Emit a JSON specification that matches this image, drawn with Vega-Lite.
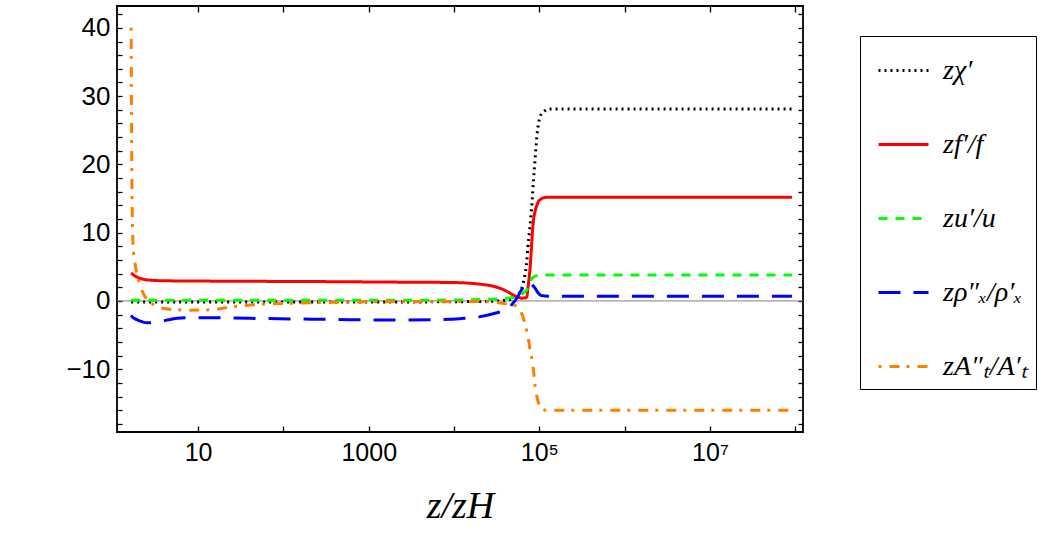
{
  "$schema": "https://vega.github.io/schema/vega-lite/v6.json",
  "width": 686,
  "height": 426,
  "autosize": {"type": "none"},
  "padding": {"left": 117, "top": 6, "right": 238, "bottom": 103},
  "config": {
    "view": {"stroke": "black", "strokeWidth": 1.8},
    "font": "Liberation Sans"
  },
  "data": {
    "values": [
      {"z": 1.641, "chi": -0.15, "f": 4.1, "u": 0.1, "rho": -2.1, "A": 40},
      {"z": 1.66, "chi": -0.15, "f": 4.05, "u": 0.1, "rho": -2.2, "A": 24},
      {"z": 1.679, "chi": -0.15, "f": 4.0, "u": 0.1, "rho": -2.3, "A": 16},
      {"z": 1.73, "chi": -0.15, "f": 3.85, "u": 0.1, "rho": -2.45, "A": 8.0},
      {"z": 1.82, "chi": -0.15, "f": 3.65, "u": 0.1, "rho": -2.6, "A": 5.5},
      {"z": 1.91, "chi": -0.15, "f": 3.5, "u": 0.1, "rho": -2.75, "A": 4.0},
      {"z": 2.089, "chi": -0.15, "f": 3.3, "u": 0.1, "rho": -2.95, "A": 2.3},
      {"z": 2.265, "chi": -0.15, "f": 3.18, "u": 0.1, "rho": -3.1, "A": 1.15},
      {"z": 2.523, "chi": -0.15, "f": 3.08, "u": 0.1, "rho": -3.2, "A": 0.2},
      {"z": 2.884, "chi": -0.15, "f": 3.02, "u": 0.1, "rho": -3.2, "A": -0.4},
      {"z": 3.304, "chi": -0.15, "f": 2.98, "u": 0.1, "rho": -3.1, "A": -0.85},
      {"z": 4.169, "chi": -0.15, "f": 2.95, "u": 0.1, "rho": -2.85, "A": -1.15},
      {"z": 5.675, "chi": -0.15, "f": 2.93, "u": 0.1, "rho": -2.55, "A": -1.3},
      {"z": 7.943, "chi": -0.15, "f": 2.92, "u": 0.1, "rho": -2.45, "A": -1.35},
      {"z": 13.84, "chi": -0.15, "f": 2.9, "u": 0.1, "rho": -2.45, "A": -1.3},
      {"z": 25.7, "chi": -0.15, "f": 2.88, "u": 0.1, "rho": -2.5, "A": -0.85},
      {"z": 40.74, "chi": -0.15, "f": 2.87, "u": 0.1, "rho": -2.55, "A": -0.6},
      {"z": 157, "chi": -0.15, "f": 2.85, "u": 0.1, "rho": -2.65, "A": -0.3},
      {"z": 631, "chi": -0.15, "f": 2.8, "u": 0.1, "rho": -2.75, "A": -0.15},
      {"z": 2333, "chi": -0.15, "f": 2.75, "u": 0.1, "rho": -2.8, "A": -0.1},
      {"z": 8995, "chi": -0.12, "f": 2.7, "u": 0.12, "rho": -2.7, "A": -0.1},
      {"z": 14256, "chi": -0.1, "f": 2.62, "u": 0.15, "rho": -2.5, "A": -0.1},
      {"z": 20230, "chi": -0.08, "f": 2.45, "u": 0.2, "rho": -2.3, "A": -0.1},
      {"z": 26485, "chi": -0.05, "f": 2.25, "u": 0.25, "rho": -2.0, "A": -0.15},
      {"z": 34674, "chi": 0.0, "f": 1.85, "u": 0.3, "rho": -1.6, "A": -0.3},
      {"z": 41687, "chi": 0.15, "f": 1.4, "u": 0.4, "rho": -1.3, "A": -0.45},
      {"z": 49317, "chi": 0.35, "f": 0.86, "u": 0.5, "rho": -0.3, "A": -0.6},
      {"z": 54450, "chi": 0.6, "f": 0.62, "u": 0.65, "rho": 0.4, "A": -0.8},
      {"z": 59566, "chi": 1.3, "f": 0.45, "u": 0.85, "rho": 1.3, "A": -1.3},
      {"z": 62373, "chi": 1.9, "f": 0.4, "u": 1.0, "rho": 1.7, "A": -1.9},
      {"z": 65163, "chi": 2.8, "f": 0.42, "u": 1.2, "rho": 2.1, "A": -2.6},
      {"z": 69984, "chi": 5.0, "f": 0.5, "u": 1.5, "rho": 2.5, "A": -4.0},
      {"z": 71285, "chi": 5.9, "f": 0.6, "u": 1.6, "rho": 2.6, "A": -4.5},
      {"z": 73282, "chi": 7.9, "f": 1.8, "u": 1.9, "rho": 2.7, "A": -5.2},
      {"z": 76560, "chi": 10.2, "f": 3.9, "u": 2.6, "rho": 2.8, "A": -6.6},
      {"z": 77983, "chi": 11.2, "f": 5.0, "u": 2.8, "rho": 2.78, "A": -7.3},
      {"z": 80168, "chi": 12.9, "f": 7.2, "u": 3.1, "rho": 2.65, "A": -8.0},
      {"z": 81658, "chi": 14.1, "f": 8.9, "u": 3.25, "rho": 2.5, "A": -8.5},
      {"z": 85310, "chi": 17.7, "f": 11.8, "u": 3.5, "rho": 2.15, "A": -10.2},
      {"z": 89330, "chi": 21.0, "f": 13.2, "u": 3.62, "rho": 1.85, "A": -12.6},
      {"z": 93541, "chi": 24.2, "f": 14.0, "u": 3.7, "rho": 1.45, "A": -14.0},
      {"z": 97724, "chi": 26.0, "f": 14.6, "u": 3.74, "rho": 1.1, "A": -15.0},
      {"z": 102094, "chi": 27.0, "f": 14.85, "u": 3.76, "rho": 0.86, "A": -15.5},
      {"z": 106905, "chi": 27.5, "f": 15.0, "u": 3.78, "rho": 0.78, "A": -15.8},
      {"z": 111686, "chi": 27.7, "f": 15.1, "u": 3.8, "rho": 0.75, "A": -15.9},
      {"z": 116950, "chi": 27.9, "f": 15.15, "u": 3.8, "rho": 0.72, "A": -16.0},
      {"z": 126765, "chi": 28.1, "f": 15.2, "u": 3.8, "rho": 0.7, "A": -16.0},
      {"z": 153109, "chi": 28.1, "f": 15.2, "u": 3.8, "rho": 0.7, "A": -16.0},
      {"z": 316228, "chi": 28.1, "f": 15.2, "u": 3.8, "rho": 0.7, "A": -16.0},
      {"z": 3162278, "chi": 28.1, "f": 15.2, "u": 3.8, "rho": 0.7, "A": -16.0},
      {"z": 91201084, "chi": 28.1, "f": 15.2, "u": 3.8, "rho": 0.7, "A": -16.0}
    ]
  },
  "layer": [
    {
      "data": {"values": [{}]},
      "mark": {"type": "rule", "color": "#7f7f7f", "strokeWidth": 1},
      "encoding": {
        "x": {"datum": 1.12, "type": "quantitative",
          "scale": {"type": "log", "domain": [1.12, 123000000], "nice": false},
          "axis": {"orient": "top", "values": [10, 100, 1000, 10000, 100000, 1000000, 10000000, 100000000],
            "labels": false, "title": null, "domain": false, "grid": false,
            "tickSize": -6, "tickColor": "black", "tickWidth": 1.3}},
        "x2": {"datum": 123000000},
        "y": {"datum": 0, "type": "quantitative",
          "scale": {"domain": [-19.2, 43.2], "nice": false, "zero": false},
          "axis": {"orient": "right", "values": [-18, -16, -14, -12, -10, -8, -6, -4, -2, 0, 2, 4, 6, 8, 10, 12, 14, 16, 18, 20, 22, 24, 26, 28, 30, 32, 34, 36, 38, 40, 42],
            "labels": false, "title": null, "domain": false, "grid": false,
            "tickSize": -5, "tickColor": "black", "tickWidth": 1.3}}
      }
    },
    {
      "transform": [{"fold": ["chi", "f", "u", "rho", "A"], "as": ["s", "v"]}],
      "mark": {"type": "line", "strokeWidth": 3, "strokeCap": "butt", "interpolate": "monotone", "clip": true},
      "encoding": {
        "x": {"field": "z", "type": "quantitative",
          "scale": {"type": "log", "domain": [1.12, 123000000], "nice": false},
          "axis": {"orient": "bottom", "values": [10, 100, 1000, 10000, 100000, 1000000, 10000000, 100000000],
            "labelExpr": "datum.value == 10 ? '10' : datum.value == 1000 ? '1000' : datum.value == 100000 ? '10⁵' : datum.value == 10000000 ? '10⁷' : ''",
            "labelFont": "Liberation Sans", "labelFontSize": 25, "labelColor": "black", "labelPadding": 14,
            "labelOverlap": false, "labelFlush": false,
            "title": "z/zH", "titleFont": "Liberation Serif", "titleFontStyle": "italic", "titleFontWeight": "normal",
            "titleFontSize": 38, "titleColor": "black", "titlePadding": 22,
            "domain": false, "grid": false, "tickSize": -6, "tickColor": "black", "tickWidth": 1.3}},
        "y": {"field": "v", "type": "quantitative",
          "scale": {"domain": [-19.2, 43.2], "nice": false, "zero": false},
          "axis": {"orient": "left", "values": [-18, -16, -14, -12, -10, -8, -6, -4, -2, 0, 2, 4, 6, 8, 10, 12, 14, 16, 18, 20, 22, 24, 26, 28, 30, 32, 34, 36, 38, 40, 42],
            "labelExpr": "datum.value % 10 == 0 ? datum.label : ''",
            "labelFont": "Liberation Sans", "labelFontSize": 26, "labelColor": "black", "labelPadding": 12,
            "labelOverlap": false, "labelFlush": false,
            "title": null, "domain": false, "grid": false, "tickSize": -5, "tickColor": "black", "tickWidth": 1.3}},
        "color": {"field": "s", "type": "nominal",
          "scale": {"domain": ["chi", "f", "u", "rho", "A"], "range": ["#000000", "#ff0000", "#00ff00", "#0000ff", "#ff8000"]},
          "legend": {"orient": "none", "legendX": 743, "legendY": 30, "title": null,
            "labelExpr": "datum.label == 'chi' ? 'zχ′' : datum.label == 'f' ? 'zf′/f' : datum.label == 'u' ? 'zu′/u' : datum.label == 'rho' ? 'zρ″ₓ/ρ′ₓ' : 'zA″ₜ/A′ₜ   '",
            "symbolType": "stroke", "symbolSize": 2500, "symbolStrokeWidth": 3, "symbolOffset": 9,
            "labelFont": "Liberation Serif", "labelFontStyle": "italic", "labelFontSize": 28, "labelColor": "black",
            "labelOffset": 13, "rowPadding": 33, "padding": 8, "strokeColor": "black"}},
        "strokeDash": {"field": "s", "type": "nominal",
          "scale": {"domain": ["chi", "f", "u", "rho", "A"], "range": [[2, 4], [1, 0], [9, 8], [22, 13], [3, 8, 10, 7]]},
          "legend": {"orient": "none", "legendX": 743, "legendY": 30, "title": null,
            "labelExpr": "datum.label == 'chi' ? 'zχ′' : datum.label == 'f' ? 'zf′/f' : datum.label == 'u' ? 'zu′/u' : datum.label == 'rho' ? 'zρ″ₓ/ρ′ₓ' : 'zA″ₜ/A′ₜ   '",
            "symbolType": "stroke", "symbolSize": 2500, "symbolStrokeWidth": 3, "symbolOffset": 9,
            "labelFont": "Liberation Serif", "labelFontStyle": "italic", "labelFontSize": 28, "labelColor": "black",
            "labelOffset": 13, "rowPadding": 33, "padding": 8, "strokeColor": "black"}}
      }
    }
  ],
  "resolve": {"axis": {"x": "independent", "y": "independent"}}
}
